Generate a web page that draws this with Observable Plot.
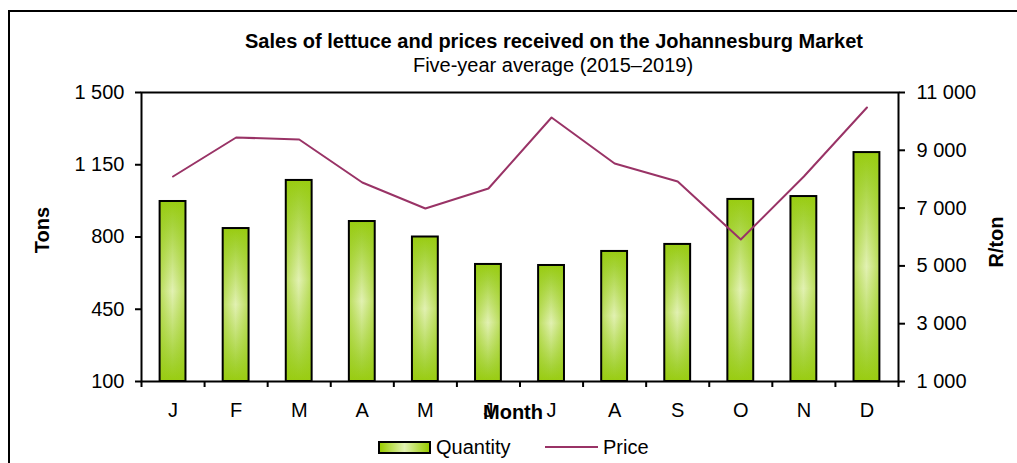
<!DOCTYPE html>
<html>
<head>
<meta charset="utf-8">
<script src="https://cdn.jsdelivr.net/npm/d3@7"></script>
<script src="https://cdn.jsdelivr.net/npm/@observablehq/plot@0.6"></script>
<style>
  html, body { margin: 0; padding: 0; background: white; overflow: hidden; }
  #wrap { position: relative; width: 1017px; height: 463px; font-family: "Liberation Sans", Arial, sans-serif; color: black; }
  .t { position: absolute; white-space: nowrap; font-size: 20px; line-height: 1; }
  #border { position: absolute; left: 8px; top: 10px; width: 1100px; height: 600px; border: 2px solid black; box-sizing: border-box; }
</style>
</head>
<body>
<div id="wrap">
  <div id="border"></div>
  <div id="chart" style="position:absolute;left:0;top:0;"></div>
  <div class="t" id="title" style="left:554px;top:31px;transform:translateX(-50%);font-weight:bold;">Sales of lettuce and prices received on the Johannesburg Market</div>
  <div class="t" id="subtitle" style="left:553px;top:55px;transform:translateX(-50%);">Five-year average (2015–2019)</div>
  <div class="t" style="left:42px;top:230px;transform:translate(-50%,-50%) rotate(-90deg);font-weight:bold;">Tons</div>
  <div class="t" style="left:996px;top:242px;transform:translate(-50%,-50%) rotate(-90deg);font-weight:bold;">R/ton</div>
  <div class="t" style="left:513px;top:402px;transform:translateX(-50%);font-weight:bold;">Month</div>
  <div style="position:absolute;left:378px;top:441px;width:53px;height:13px;box-sizing:border-box;border:2px solid black;background:linear-gradient(to right,#99cc00,#e2f2b4 50%,#99cc00);"></div>
  <div class="t" style="left:436px;top:437px;">Quantity</div>
  <div style="position:absolute;left:545px;top:446px;width:53px;height:2px;background:#993366;"></div>
  <div class="t" style="left:603px;top:437px;">Price</div>
</div>
<script>
const months = ["J","F","M","A","M","J","J","A","S","O","N","D"];
const quantity = [972, 841, 1074, 875, 800, 667, 662, 730, 764, 982, 996, 1209];
const price = [8093, 9443, 9374, 7886, 6986, 7678, 10135, 8543, 7920, 5913, 8093, 10481];
const tonTicks = [100, 450, 800, 1150, 1500];
const priceTicks = [1000, 3000, 5000, 7000, 9000, 11000];

const tonDomain = [100, 1500];
const priceDomain = [1000, 11000];
const toTons = p => tonDomain[0] + (p - priceDomain[0]) * (tonDomain[1] - tonDomain[0]) / (priceDomain[1] - priceDomain[0]);
const fromTons = t => Math.round(priceDomain[0] + (t - tonDomain[0]) * (priceDomain[1] - priceDomain[0]) / (tonDomain[1] - tonDomain[0]));

const fmt = d3.formatLocale({decimal: ".", thousands: " ", grouping: [3], currency: ["", ""]}).format(",");

const data = months.map((m, i) => ({i, m, q: quantity[i], p: price[i]}));
const half = 0.205;

const chart = Plot.plot({
  width: 1017,
  height: 463,
  marginLeft: 141,
  marginRight: 119,
  marginTop: 92,
  marginBottom: 82,
  style: {fontFamily: "Liberation Sans, Arial, sans-serif", fontSize: "20px", color: "black", background: "transparent", overflow: "visible"},
  x: {domain: [-0.5, 11.5], label: null},
  y: {domain: tonDomain, label: null},
  marks: [
    Plot.rect(data, {x1: d => d.i - half, x2: d => d.i + half, y1: tonDomain[0], y2: "q", fill: "url(#gradV)"}),
    Plot.rect(data, {x1: d => d.i - half, x2: d => d.i + half, y1: tonDomain[0], y2: "q", fill: "url(#gradH)"}),
    Plot.rect(data, {x1: d => d.i - half, x2: d => d.i + half, y1: tonDomain[0], y2: "q", fill: "none", stroke: "black", strokeWidth: 2}),
    Plot.line(data, {x: "i", y: d => toTons(d.p), stroke: "#993366", strokeWidth: 2}),
    Plot.frame({stroke: "black", strokeWidth: 2}),
    Plot.axisY(tonTicks, {anchor: "left", tickSize: 6, tickPadding: 11, strokeWidth: 2, tickFormat: fmt, fontSize: 20, label: null}),
    Plot.axisY(priceTicks.map(toTons), {anchor: "right", tickSize: 6, tickPadding: 12, strokeWidth: 2, tickFormat: d => fmt(fromTons(d)), fontSize: 20, label: null}),
    Plot.axisX(d3.range(13).map(i => i - 0.5), {anchor: "bottom", tickSize: 6, strokeWidth: 2, tickFormat: () => "", label: null}),
    Plot.axisX(d3.range(12), {anchor: "bottom", tickSize: 0, tickPadding: 21, tickFormat: i => months[i], fontSize: 20, label: null})
  ]
});

const defs = document.createElementNS("http://www.w3.org/2000/svg", "defs");
defs.innerHTML = `
  <linearGradient id="gradV" x1="0" y1="0" x2="0" y2="1">
    <stop offset="0" stop-color="#99cc11"/>
    <stop offset="0.12" stop-color="#a6d33a"/>
    <stop offset="0.5" stop-color="#e2f1b3"/>
    <stop offset="0.88" stop-color="#a6d33a"/>
    <stop offset="1" stop-color="#99cc11"/>
  </linearGradient>
  <linearGradient id="gradH" x1="0" y1="0" x2="1" y2="0">
    <stop offset="0" stop-color="#99cc11" stop-opacity="0.55"/>
    <stop offset="0.5" stop-color="#99cc11" stop-opacity="0"/>
    <stop offset="1" stop-color="#99cc11" stop-opacity="0.55"/>
  </linearGradient>`;
chart.insertBefore(defs, chart.firstChild);
document.getElementById("chart").appendChild(chart);
</script>
</body>
</html>
